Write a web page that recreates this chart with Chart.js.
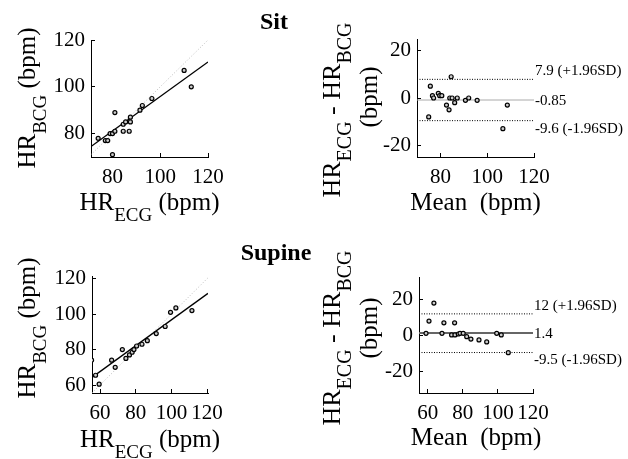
<!DOCTYPE html>
<html>
<head>
<meta charset="utf-8">
<script src="https://cdn.jsdelivr.net/npm/chart.js@4.4.1/dist/chart.umd.min.js"></script>
<style>
  body { margin: 0; background: #fff; }
  #fig { position: relative; width: 628px; height: 459px; overflow: hidden; }
  canvas { position: absolute; }
  .title { position: absolute; font: bold 24px 'Liberation Serif'; line-height: 1; transform: translateX(-50%); color: #000; z-index: 2; }
</style>
</head>
<body>
<div id="fig">
  <canvas id="c1" width="314" height="230" style="left:0;top:0"></canvas>
  <canvas id="c2" width="314" height="230" style="left:314px;top:0"></canvas>
  <canvas id="c3" width="314" height="229" style="left:0;top:230px"></canvas>
  <canvas id="c4" width="314" height="229" style="left:314px;top:230px"></canvas>
  <div class="title" style="left:274px;top:9px">Sit</div>
  <div class="title" style="left:276px;top:240px">Supine</div>
</div>
<script>
// Sit: HR from ECG vs HR from BCG
const sitEcg = [74, 77, 78, 79, 80, 81, 81, 80, 84.5, 87, 84.5, 85.5, 87.5, 87.5, 91.5, 92.5, 96.5, 110, 113];
const sitBcg = [78, 77, 77, 80, 80, 81, 89, 71, 81, 81, 84, 85, 85, 87, 90, 92, 95, 107, 100];
const sitFitX = [71, 120];
const sitFitY = [74.5, 110.6];

// Sit: Bland-Altman
const sitMean = [75, 75.7, 76.6, 77.1, 79.1, 79.7, 80.6, 82.6, 83.7, 84.6, 84, 85, 86.1, 87.2, 90.7, 92.1, 95.7, 106.7, 108.6];
const sitDiff = [-8, 5, 1, 0, 2, 1, 1, -3, -5, 9, 0, 0, -2, 0, -1, 0, -1, -13, -3];
const sitLimits = [7.9, -0.85, -9.6];
const sitLimitLabels = ['7.9 (+1.96SD)', '-0.85', '-9.6 (-1.96SD)'];

// Supine: HR from ECG vs HR from BCG
const supEcg = [55.3, 57.5, 59.5, 66.5, 68.5, 72.5, 74.5, 76.5, 78, 79, 80.5, 83.5, 86.5, 91.5, 96.5, 99.5, 102.5, 111.5];
const supBcg = [74, 65.5, 60.5, 74, 70, 80, 75, 77, 78.5, 80, 82, 83, 85, 89, 93, 101, 103.5, 102];
const supFitX = [55.5, 120.5];
const supFitY = [64.3, 111.7];

// Supine: Bland-Altman
const supMean = [59, 60.7, 63.5, 68.1, 69.2, 73.6, 75.5, 75.3, 77.4, 78.4, 80.2, 82.2, 84.6, 89.2, 93.6, 99.3, 101.9, 105.9];
const supDiff = [1.2, 8, 18, 1.2, 7, 0.3, 0.3, 7, 0.8, 1.2, 1.2, -0.7, -2, -2.5, -3.6, 1.2, 0.3, -9.6];
const supLimits = [12, 1.4, -9.5];
const supLimitLabels = ['12 (+1.96SD)', '1.4', '-9.5 (-1.96SD)'];

const ticksSitHr = [80, 100, 120];
const ticksSupHr = [60, 80, 100, 120];
const ticksDiff = [-20, 0, 20];

const SERIF = "'Liberation Serif', 'Times New Roman', serif";

function pts(xs, ys) {
  return xs.map((x, i) => ({ x, y: ys[i] }));
}

// draws text made of [text, isSub] parts, centred on (0,0) after transforms
function drawParts(ctx, parts, size, subSize, subDrop) {
  const widths = parts.map(p => {
    ctx.font = (p[1] ? subSize : size) + 'px ' + SERIF;
    return ctx.measureText(p[0]).width;
  });
  let x = -widths.reduce((a, b) => a + b, 0) / 2;
  ctx.textAlign = 'left';
  ctx.textBaseline = 'alphabetic';
  parts.forEach((p, i) => {
    ctx.font = (p[1] ? subSize : size) + 'px ' + SERIF;
    ctx.fillText(p[0], x, p[1] ? subDrop : 0);
    x += widths[i];
  });
}

function titlesPlugin(spec) {
  return {
    id: 'axisTitles',
    afterDraw(chart) {
      const ctx = chart.ctx;
      const area = chart.chartArea;
      ctx.save();
      ctx.fillStyle = '#000';
      // x title
      ctx.save();
      ctx.translate((area.left + area.right) / 2, area.bottom + spec.xTitleDy);
      drawParts(ctx, spec.xTitle, 25, 19, 11);
      ctx.restore();
      // y title lines (rotated)
      spec.yTitle.forEach(line => {
        ctx.save();
        ctx.translate(line.x, line.y);
        ctx.rotate(-Math.PI / 2);
        drawParts(ctx, line.parts, line.size || 25, line.sub || 19, 11);
        ctx.restore();
      });
      // limit labels for Bland-Altman
      if (spec.limits) {
        const ys = chart.scales.y;
        ctx.font = '15px ' + SERIF;
        ctx.textAlign = 'left';
        ctx.textBaseline = 'middle';
        spec.limits.forEach((v, i) => {
          ctx.fillText(spec.limitLabels[i], area.right + 1, ys.getPixelForValue(v) + [-8, 1, 8][i]);
        });
      }
      ctx.restore();
    }
  };
}

function axis(min, max, ticks, fitSize, isX) {
  return {
    type: 'linear',
    min: min,
    max: max,
    afterBuildTicks: s => { s.ticks = ticks.map(v => ({ value: v })); },
    afterFit: s => { if (isX) s.height = fitSize; else s.width = fitSize; },
    grid: { display: true, drawOnChartArea: false, drawTicks: true, tickLength: -4, color: '#000', lineWidth: 1 },
    border: { display: true, color: '#000', width: 1 },
    ticks: {
      color: '#000',
      padding: isX ? 12 : 10,
      maxRotation: 0,
      autoSkip: false,
      font: { family: SERIF, size: 21 },
    },
  };
}

function scatterSet(data) {
  return {
    data,
    showLine: false,
    pointRadius: 2,
    pointBorderWidth: 1.2,
    pointBorderColor: '#000',
    pointBackgroundColor: '#ccc',
    order: 0,
  };
}

function lineSet(data, color, width, dash) {
  return {
    data,
    showLine: true,
    pointRadius: 0,
    borderColor: color,
    borderWidth: width,
    borderDash: dash || [],
    order: 1,
  };
}

function makeChart(id, datasets, scales, padding, spec) {
  const ctx = document.getElementById(id).getContext('2d');
  return new Chart(ctx, {
    type: 'scatter',
    data: { datasets },
    options: {
      responsive: false,
      animation: false,
      devicePixelRatio: 1,
      layout: { padding },
      scales,
      plugins: { legend: { display: false }, tooltip: { enabled: false } },
    },
    plugins: [titlesPlugin(spec)],
  });
}

const hrX = [['HR', false], ['ECG', true], [' (bpm)', false]];
const hrY = [['HR', false], ['BCG', true], [' (bpm)', false]];
const diffY1 = [['HR', false], ['ECG', true], [' - HR', false], ['BCG', true]];
const diffY2 = [['(bpm)', false]];
const meanX = [['Mean  (bpm)', false]];

// Sit scatter
makeChart('c1', [
  scatterSet(pts(sitEcg, sitBcg)),
  lineSet(pts(sitFitX, sitFitY), '#000', 1.3),
  lineSet(pts([70, 120], [70, 120]), '#bbb', 1, [1, 2]),
], {
  x: axis(71, 120, ticksSitHr, 73, true),
  y: axis(70, 120, ticksSitHr, 91, false),
}, { top: 40, right: 106, left: 0, bottom: 0 }, {
  xTitle: hrX, xTitleDy: 53,
  yTitle: [{ x: 35, y: 98, parts: hrY }],
});

// Sit Bland-Altman
makeChart('c2', [
  scatterSet(pts(sitMean, sitDiff)),
  lineSet(pts([70, 120], [sitLimits[0], sitLimits[0]]), '#000', 1, [1, 1.5]),
  lineSet(pts([70, 120], [sitLimits[1], sitLimits[1]]), '#aaa', 1),
  lineSet(pts([70, 120], [sitLimits[2], sitLimits[2]]), '#000', 1, [1, 1.5]),
], {
  x: axis(70, 120, ticksSitHr, 73, true),
  y: axis(-25, 25, ticksDiff, 103, false),
}, { top: 39, right: 94, left: 0, bottom: 0 }, {
  xTitle: meanX, xTitleDy: 53,
  yTitle: [{ x: 26, y: 110, parts: diffY1, size: 26, sub: 20 }, { x: 63, y: 97, parts: diffY2 }],
  limits: sitLimits, limitLabels: sitLimitLabels,
});

// Supine scatter
makeChart('c3', [
  scatterSet(pts(supEcg, supBcg)),
  lineSet(pts(supFitX, supFitY), '#000', 1.3),
  lineSet(pts([55.5, 121.5], [55.5, 121.5]), '#bbb', 1, [1, 2]),
], {
  x: axis(55.5, 120.5, ticksSupHr, 66, true),
  y: axis(55.5, 121.5, ticksSupHr, 92, false),
}, { top: 46, right: 106, left: 0, bottom: 0 }, {
  xTitle: hrX, xTitleDy: 54,
  yTitle: [{ x: 35, y: 98, parts: hrY }],
});

// Supine Bland-Altman
makeChart('c4', [
  scatterSet(pts(supMean, supDiff)),
  lineSet(pts([55, 120], [supLimits[0], supLimits[0]]), '#000', 1, [1, 1.5]),
  lineSet(pts([55, 120], [supLimits[1], supLimits[1]]), '#666', 2),
  lineSet(pts([55, 120], [supLimits[2], supLimits[2]]), '#000', 1, [1, 1.5]),
], {
  x: axis(55, 120, ticksSupHr, 66, true),
  y: axis(-32, 32.5, ticksDiff, 105, false),
}, { top: 47, right: 95, left: 0, bottom: 0 }, {
  xTitle: meanX, xTitleDy: 52,
  yTitle: [{ x: 26, y: 108, parts: diffY1, size: 26, sub: 20 }, { x: 63, y: 98, parts: diffY2 }],
  limits: supLimits, limitLabels: supLimitLabels,
});
</script>
</body>
</html>
